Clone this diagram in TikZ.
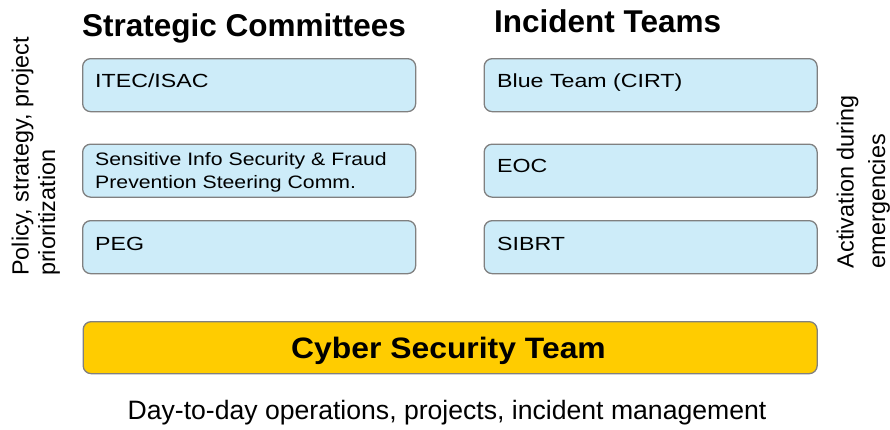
\documentclass[tikz,border=0pt]{standalone}
\usepackage{fontspec}
\setmainfont{Liberation Sans}
\newfontfamily\boxfont[FakeStretch=1.22]{Liberation Sans}
\newfontfamily\boxfontb[FakeStretch=1.18]{Liberation Sans}
\newfontfamily\cyberfont[FakeStretch=1.08]{Liberation Sans}
\definecolor{boxblue}{RGB}{205,236,249}
\definecolor{boxgold}{RGB}{255,204,0}
\definecolor{boxline}{RGB}{128,128,128}
\tikzset{
  cbox/.style={draw=boxline, line width=1.3pt, fill=boxblue, rounded corners=8pt,
    minimum width=333pt, minimum height=53pt, inner sep=0pt, anchor=north west},
  goldbox/.style={draw=boxline, line width=1.3pt, fill=boxgold, rounded corners=8pt,
    minimum width=734pt, minimum height=52pt, inner sep=0pt, anchor=north west},
  btext/.style={inner sep=0pt, anchor=base west, font=\boxfont\fontsize{19}{23}\selectfont},
  btextb/.style={inner sep=0pt, anchor=base west, align=left, font=\boxfontb\fontsize{18}{23}\selectfont},
  title/.style={inner sep=0pt, anchor=base west, font=\fontsize{31.5}{36}\selectfont\bfseries},
  side/.style={inner sep=0pt, anchor=base west, rotate=90, font=\fontsize{23.4}{28}\selectfont},
}
\begin{document}
\begin{tikzpicture}[x=1pt,y=-1pt]
\useasboundingbox (0,0) rectangle (890,429);
% titles
\node[title] (t1) at (82,36) {Strategic Committees};
\node[title] (t2) at (494,32) {Incident Teams};
% left boxes
\node[cbox] (itec) at (82,58) {};
\node[btext] (itecl) at (95,87.3) {ITEC/ISAC};
\node[cbox] (sisf) at (82,143.5) {};
\node[btextb] (sisfl) at (95,165) {Sensitive Info Security \& Fraud};
\node[btextb] (sisfl2) at (95,188) {Prevention Steering Comm.};
\node[cbox] (peg) at (82,220) {};
\node[btext] (pegl) at (95,250) {PEG};
% right boxes
\node[cbox] (blue) at (483.5,58) {};
\node[btext] (bluel) at (497,87.3) {Blue Team (CIRT)};
\node[cbox] (eoc) at (483.5,143.5) {};
\node[btext] (eocl) at (497,172.7) {EOC};
\node[cbox] (sibrt) at (483.5,220) {};
\node[btext] (sibrtl) at (497,250) {SIBRT};
% cyber security team
\node[goldbox] (cst) at (82.5,321) {};
\node[inner sep=0pt, anchor=base, font=\cyberfont\fontsize{29.5}{34}\selectfont\bfseries] (cstl) at (448.5,358.3) {Cyber Security Team};
% bottom text
\node[inner sep=0pt, anchor=base, font=\fontsize{26.6}{30}\selectfont] (ops) at (447,419) {Day-to-day operations, projects, incident management};
% side texts
\node[side] (pol1) at (28.5,276) {Policy, strategy, project};
\node[side] (pol2) at (55,276) {prioritization};
\node[side] (act1) at (853.5,268.3) {Activation during};
\node[side] (act2) at (885,268.3) {emergencies};
\end{tikzpicture}
\end{document}
